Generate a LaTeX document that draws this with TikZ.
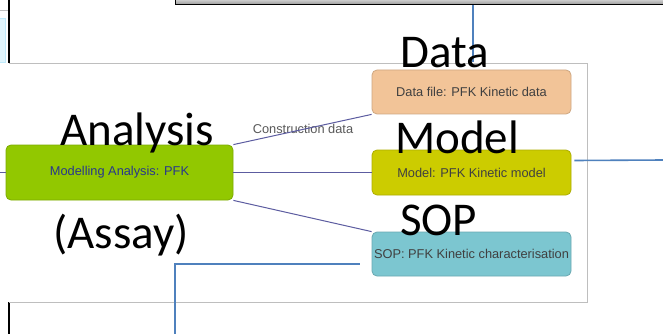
\documentclass[tikz,border=0pt]{standalone}
\usepackage{fontspec}
\setmainfont{Liberation Sans}
\newfontfamily\bigfont{Carlito}

\definecolor{analysisgreen}{RGB}{146,200,0}
\definecolor{datapeach}{RGB}{242,196,152}
\definecolor{modelolive}{RGB}{204,204,0}
\definecolor{sopteal}{RGB}{124,198,208}
\definecolor{linkpurple}{RGB}{92,92,160}
\definecolor{wireblue}{RGB}{79,129,189}
\definecolor{framegray}{RGB}{190,190,190}

\tikzset{
	itembox/.style={draw, rounded corners=5pt, line width=0.8pt, minimum width=199pt, minimum height=44pt, inner sep=0pt,
		font=\fontsize{12.8}{14}\selectfont, text=black!75},
	biglabel/.style={anchor=base west, inner sep=0pt, font=\bigfont\fontsize{47}{47}\selectfont},
	link/.style={draw=linkpurple, line width=1pt},
	wire/.style={draw=wireblue, line width=1.6pt}
}

\begin{document}
\begin{tikzpicture}[x=1pt,y=-1pt]
			\useasboundingbox[fill=white] (0,0) rectangle (663,334);
			
			% window pieces round the screenshot
			\node[draw=black, line width=1pt, top color=black!18, bottom color=black!40, minimum width=500pt, minimum height=5pt, inner sep=0pt, anchor=north west] (topbar) at (175,-1) {};
			\draw[fill=cyan!12, draw=cyan!25] (-1,18) rectangle (5,62);
			\draw[framegray, line width=0.6pt] (0,10) -- (9,10);
			\draw[black, line width=1.2pt] (9,0) -- (9,63);
			\draw[black, line width=1.2pt] (9,302) -- (9,334);
			\draw[framegray, line width=0.8pt] (9,63) -- (587,63) -- (587,302) -- (9,302);
			
			% boxes
			\node[itembox, fill=analysisgreen, draw=analysisgreen!85!black, minimum width=227pt, minimum height=55pt, text={rgb,255:red,40;green,55;blue,140}] (analysis) at (119.5,172.5) {Modelling Analysis: PFK};
			\node[itembox, fill=datapeach, draw=datapeach!85!black] (data) at (471.5,92) {Data file: PFK Kinetic data};
			\node[itembox, fill=modelolive, draw=modelolive!85!black, minimum height=45pt] (model) at (471.5,172.5) {Model: PFK Kinetic model};
			\node[itembox, fill=sopteal, draw=sopteal!85!black] (sop) at (471.5,254) {SOP: PFK Kinetic characterisation};
			
			\coordinate (leftend) at (0,172.5);
			\coordinate (rightend) at (664,160);
			\coordinate (bottomend) at (175,335);
			\coordinate (datadrop) at (473,62);
			
			% links between the boxes
			\draw[link] (leftend) -- (analysis.west);
			\node[text=black!65, font=\fontsize{12.8}{14}\selectfont, inner sep=0pt] (constr) at (303,129) {Construction data};
			\draw[link] (analysis.north east) -- (data.south west);
			\draw[link] (analysis.east) -- (model.west);
			\draw[link] (analysis.south east) -- (sop.north west);
			
			% connectors running off the picture
			\draw[wire] (datadrop |- topbar.south) -- (datadrop);
			\draw[wire] ([shift={(3,-12)}]model.east) -- (rightend);
			\draw[wire] ([shift={(-12,10)}]sop.west) -| (bottomend);
			
			\node[biglabel] (lbldata) at (400,68) {Data};
			\node[biglabel] (lblanalysis) at (60,145) {Analysis};
			\node[biglabel] (lblmodel) at (395,153) {Model};
			\node[biglabel] (lblassay) at (53,248) {(Assay)};
			\node[biglabel] (lblsop) at (400,235) {SOP};
		\end{tikzpicture}
\end{document}
